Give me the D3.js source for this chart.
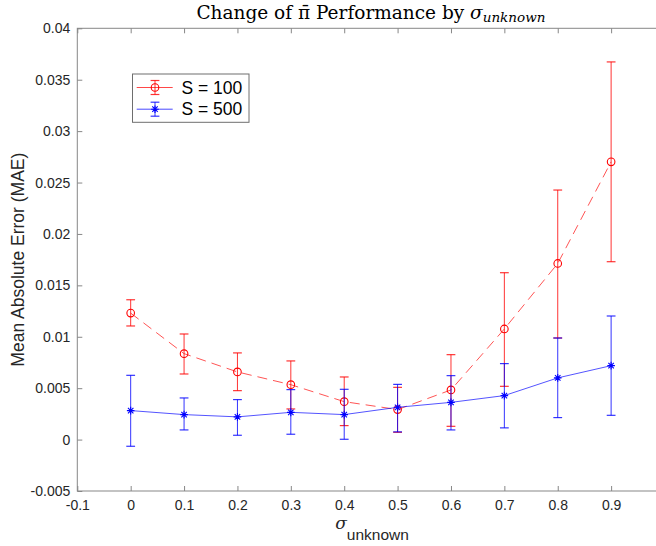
<!DOCTYPE html>
<html><head><meta charset="utf-8">
<script src="https://cdn.jsdelivr.net/npm/d3@7"></script>
<style>body{margin:0;background:#fff;} svg{display:block;overflow:hidden;}</style>
</head><body>
<svg id="c" width="656" height="546"></svg>
<script>
const sigma = [0, 0.1, 0.2, 0.3, 0.4, 0.5, 0.6, 0.7, 0.8, 0.9];
const s100Mean  = [0.0123, 0.00836, 0.00658, 0.00534, 0.00369, 0.00292, 0.00483, 0.01076, 0.01713, 0.02701];
const s100Upper = [0.0136, 0.01027, 0.00843, 0.00765, 0.00609, 0.00508, 0.00826, 0.01623, 0.02427, 0.03673];
const s100Lower = [0.01105, 0.00638, 0.00476, 0.00298, 0.00136, 0.00071, 0.00129, 0.00518, 0.00988, 0.0173];
const s500Mean  = [0.00282, 0.00243, 0.00221, 0.00265, 0.00243, 0.00314, 0.00362, 0.00428, 0.006, 0.00719];
const s500Upper = [0.00625, 0.00405, 0.00389, 0.00486, 0.00489, 0.00537, 0.00622, 0.00739, 0.00988, 0.01202];
const s500Lower = [-0.00065, 0.00094, 0.00042, 0.00052, 0.00003, 0.00075, 0.00094, 0.00114, 0.00214, 0.00236];
const xTicks = [-0.1, 0, 0.1, 0.2, 0.3, 0.4, 0.5, 0.6, 0.7, 0.8, 0.9, 1.0];
const xTickLabels = ["-0.1", "0", "0.1", "0.2", "0.3", "0.4", "0.5", "0.6", "0.7", "0.8", "0.9", ""];
const yTicks = [-0.005, 0, 0.005, 0.01, 0.015, 0.02, 0.025, 0.03, 0.035, 0.04];
const yTickLabels = ["-0.005", "0", "0.005", "0.01", "0.015", "0.02", "0.025", "0.03", "0.035", "0.04"];
const seriesNames = ["S = 100", "S = 500"];

const svg = d3.select("#c");
const L = 77.3, R = 664.5, T = 28.3, B = 491;
const x = d3.scaleLinear().domain([-0.1, 1.0]).range([L, R]);
const y = d3.scaleLinear().domain([-0.005, 0.04]).range([B, T]);
const axisCol = "#878787", textCol = "#262626";
const fnt = "'Liberation Sans', Arial, sans-serif";

svg.append("rect").attr("x", L).attr("y", T).attr("width", R - L).attr("height", B - T)
  .attr("fill", "none").attr("stroke", axisCol).attr("stroke-width", 1);

const xb = svg.append("g").attr("transform", `translate(0,${B})`)
  .call(d3.axisBottom(x).tickValues(xTicks).tickSize(-5).tickPadding(9).tickFormat((d, i) => xTickLabels[i]));
const xt = svg.append("g").attr("transform", `translate(0,${T})`)
  .call(d3.axisTop(x).tickValues(xTicks).tickSize(-5).tickFormat(""));
const yl = svg.append("g").attr("transform", `translate(${L},0)`)
  .call(d3.axisLeft(y).tickValues(yTicks).tickSize(-5).tickPadding(7).tickFormat((d, i) => yTickLabels[i]));
const yr = svg.append("g").attr("transform", `translate(${R},0)`)
  .call(d3.axisRight(y).tickValues(yTicks).tickSize(-5).tickFormat(""));
[xb, xt, yl, yr].forEach(g => {
  g.select(".domain").remove();
  g.selectAll(".tick line").attr("stroke", axisCol);
  g.selectAll("text").attr("fill", textCol).style("font-family", fnt).style("font-size", "14px");
});

const series = [
  {name: seriesNames[0], color: "#ff0000", mean: s100Mean, lo: s100Lower, hi: s100Upper, dash: "10,6", marker: "circle"},
  {name: seriesNames[1], color: "#0000ff", mean: s500Mean, lo: s500Lower, hi: s500Upper, dash: null, marker: "star"}
];
const cap = 4.4;
function drawMarker(g, type, cx, cy, color) {
  if (type === "circle") {
    g.append("circle").attr("cx", cx).attr("cy", cy).attr("r", 3.8)
      .attr("fill", "none").attr("stroke", color).attr("stroke-width", 1.1);
  } else {
    const r = 3.8, d = r * 0.72;
    const p = `M${cx - r},${cy}L${cx + r},${cy}M${cx},${cy - r}L${cx},${cy + r}M${cx - d},${cy - d}L${cx + d},${cy + d}M${cx - d},${cy + d}L${cx + d},${cy - d}`;
    g.append("path").attr("d", p).attr("stroke", color).attr("stroke-width", 1.1).attr("fill", "none");
  }
}
series.forEach(s => {
  const g = svg.append("g");
  sigma.forEach((sv, i) => {
    const cx = x(sv);
    g.append("line").attr("x1", cx).attr("x2", cx).attr("y1", y(s.lo[i])).attr("y2", y(s.hi[i]))
      .attr("stroke", s.color).attr("stroke-width", 1).attr("stroke-opacity", 0.8);
    [s.lo[i], s.hi[i]].forEach(v => {
      g.append("line").attr("x1", cx - cap).attr("x2", cx + cap).attr("y1", y(v)).attr("y2", y(v))
        .attr("stroke", s.color).attr("stroke-width", 1.2).attr("stroke-opacity", 0.8);
    });
  });
  const line = d3.line().x((d, i) => x(sigma[i])).y(d => y(d));
  const p = g.append("path").datum(s.mean).attr("d", line).attr("fill", "none")
    .attr("stroke", s.color).attr("stroke-width", 0.9).attr("stroke-opacity", 0.75);
  if (s.dash) p.attr("stroke-dasharray", s.dash);
  sigma.forEach((sv, i) => drawMarker(g, s.marker, x(sv), y(s.mean[i]), s.color));
});

// legend
const lg = svg.append("g");
lg.append("rect").attr("x", 132.5).attr("y", 74).attr("width", 116.5).attr("height", 48.3)
  .attr("fill", "#fff").attr("stroke", "#6e6e6e").attr("stroke-width", 1);
series.forEach((s, i) => {
  const ly = 87.5 + i * 21.7, lx0 = 136.7, lx1 = 172.7, mx = 155;
  lg.append("line").attr("x1", lx0).attr("x2", lx1).attr("y1", ly).attr("y2", ly)
    .attr("stroke", s.color).attr("stroke-width", 0.9).attr("stroke-opacity", 0.8);
  lg.append("line").attr("x1", mx).attr("x2", mx).attr("y1", ly - 7).attr("y2", ly + 7)
    .attr("stroke", s.color).attr("stroke-width", 1).attr("stroke-opacity", 0.8);
  [ly - 7, ly + 7].forEach(v => lg.append("line").attr("x1", mx - cap).attr("x2", mx + cap)
    .attr("y1", v).attr("y2", v).attr("stroke", s.color).attr("stroke-width", 1.2).attr("stroke-opacity", 0.8));
  drawMarker(lg, s.marker, mx, ly, s.color);
  lg.append("text").attr("x", 181.5).attr("y", ly + 6).text(s.name)
    .attr("fill", "#000").style("font-family", fnt).style("font-size", "17.5px");
});

// title
const title = svg.append("text").attr("x", (L + R) / 2).attr("y", 19).attr("text-anchor", "middle")
  .attr("fill", "#000").style("font-family", "'DejaVu Serif', 'Liberation Serif', serif").style("font-size", "18.5px");
title.append("tspan").text("Change of \u03C0\u0304 Performance by ");
title.append("tspan").style("font-style", "italic").text("\u03C3");
title.append("tspan").style("font-style", "italic").style("font-size", "13.5px").attr("dy", 3).text("unknown");

// x label
const xl = svg.append("text").attr("x", 372).attr("y", 529).attr("text-anchor", "middle")
  .attr("fill", textCol).style("font-family", fnt).style("font-size", "17px");
xl.append("tspan").style("font-style", "italic").style("font-family", "'DejaVu Serif', serif").text("\u03C3");
xl.append("tspan").attr("dy", 11).style("font-size", "15.5px").text("unknown");

// y label
svg.append("text").attr("transform", `translate(24,${(T + B) / 2}) rotate(-90)`).attr("text-anchor", "middle")
  .attr("fill", textCol).style("font-family", fnt).style("font-size", "17.5px").text("Mean Absolute Error (MAE)");
</script>
</body></html>
